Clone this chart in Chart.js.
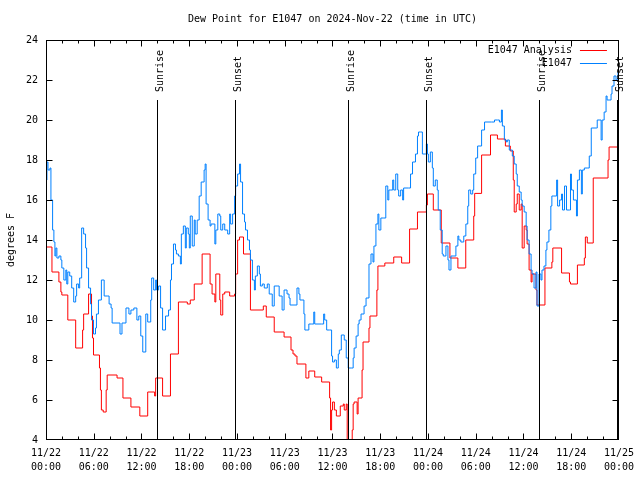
<!DOCTYPE html>
<html>
<head>
<meta charset="utf-8">
<title>Dew Point for E1047</title>
<script src="https://cdn.jsdelivr.net/npm/chart.js@4.4.0/dist/chart.umd.min.js"></script>
<style>
  html, body { margin: 0; padding: 0; background: #fff; }
  #wrap { width: 640px; height: 480px; }
</style>
</head>
<body>
<div id="wrap"><canvas id="dewChart" width="640" height="480"></canvas></div>
<script>
// Dew point chart, hours since 2024-11-22 00:00 UTC on the x axis

const MONO = '"DejaVu Sans Mono", "Liberation Mono", monospace';

const tickDates = ['11/22', '11/22', '11/22', '11/22', '11/23', '11/23', '11/23', '11/23',
                   '11/24', '11/24', '11/24', '11/24', '11/25'];
const tickTimes = ['00:00', '06:00', '12:00', '18:00', '00:00', '06:00', '12:00', '18:00',
                   '00:00', '06:00', '12:00', '18:00', '00:00'];

const sunHours = [13.93, 23.8, 37.95, 47.8, 61.9, 71.79];
const sunLabels = ['Sunrise', 'Sunset', 'Sunrise', 'Sunset', 'Sunrise', 'Sunset'];

// E1047 Analysis (red)
const analysisHours = [0, 0.75, 1.62, 1.87, 1.99, 2.74, 3.73, 4.6, 4.73, 5.35,
    5.72, 5.84, 5.97, 6.72, 6.84, 6.96, 7.19, 7.56, 7.69, 8.93,
    9.67, 10.67, 11.79, 12.78, 13.65, 13.78, 14.65, 15.64, 16.64, 17.76,
    18.13, 18.63, 19.62, 20.62, 20.87, 21.22, 21.34, 21.84, 21.96, 22.21,
    22.46, 23.08, 23.7, 23.83, 24.08, 24.32, 24.82, 25.69, 27.31, 27.68,
    28.68, 29.92, 30.79, 31.04, 31.29, 31.54, 32.66, 33.03, 33.77, 34.64,
    35.64, 35.76, 35.89, 36.01, 36.24, 36.49, 36.98, 37.36, 37.48, 37.73,
    37.85, 38.48, 38.6, 38.72, 39.1, 39.22, 39.72, 39.84, 40.59, 40.71,
    41.58, 41.71, 42.58, 43.7, 44.69, 45.69, 46.68, 47.8, 47.93, 48.67,
    49.67, 50.76, 51.76, 52.75, 53.75, 53.87, 54.74, 55.86, 56.73, 57.73,
    58.35, 58.72, 58.84, 59.09, 59.22, 59.47, 59.71, 59.84, 60.09, 60.34,
    60.46, 60.71, 60.96, 61.08, 61.58, 61.7, 62.7, 63.57, 63.69, 64.79,
    65.78, 65.91, 66.78, 67.65, 67.78, 68.02, 68.77, 70.63, 70.76, 71.88];
const analysisValues = [13.65, 12.4, 11.9, 11.4, 11.25, 10.0, 8.6, 9.5, 10.3, 11.3,
    10.2, 9.1, 8.25, 7.6, 6.5, 5.5, 5.4, 6.5, 7.25, 7.1,
    6.1, 5.65, 5.2, 6.4, 6.2, 7.1, 6.2, 8.3, 10.9, 10.8,
    11.0, 11.8, 13.3, 11.8, 11.3, 10.9, 12.3, 11.0, 10.25, 11.3,
    11.4, 11.2, 11.3, 12.3, 14.0, 14.15, 13.3, 10.5, 10.7, 10.15,
    9.4, 9.15, 8.5, 8.3, 8.2, 7.8, 7.1, 7.45, 7.15, 6.9,
    6.1, 4.5, 5.5, 5.9, 5.5, 5.2, 5.7, 5.8, 5.5, 5.8,
    4.0, 4.5, 5.8, 5.9, 5.3, 6.1, 7.5, 8.9, 9.6, 10.2,
    11.5, 12.7, 12.85, 13.15, 12.85, 14.55, 15.4, 15.75, 16.3, 15.5,
    13.85, 13.1, 12.6, 14.0, 15.2, 16.33, 18.25, 19.25, 19.05, 18.7,
    18.45, 17.0, 15.4, 15.8, 16.3, 15.5, 15.8, 13.6, 14.7, 14.5,
    13.8, 12.5, 11.9, 12.3, 11.5, 10.75, 12.6, 12.9, 13.6, 12.35,
    11.9, 11.8, 12.75, 13.1, 14.15, 13.85, 17.1, 18.0, 18.65, 18.65];

// E1047 station (blue)
const stationHours = [0, 0.12, 0.25, 0.5, 0.62, 0.83, 0.99, 1.12, 1.24, 1.37,
    1.62, 1.87, 1.99, 2.24, 2.49, 2.61, 2.74, 2.98, 3.23, 3.48,
    3.73, 3.85, 4.1, 4.23, 4.48, 4.73, 4.97, 5.1, 5.35, 5.6,
    5.72, 5.97, 6.22, 6.34, 6.59, 6.96,
    7.31, 7.69, 7.93, 8.18, 8.31, 9.05, 9.3, 9.55, 9.8, 10.05,
    10.42, 10.67, 11.04, 11.42, 11.66, 11.91, 12.16, 12.54, 12.78, 13.16,
    13.28, 13.53, 13.78, 13.9, 14.15, 14.4, 14.65, 15.02, 15.4, 15.64,
    15.77, 16.02, 16.27, 16.39, 16.64, 16.89, 17.01, 17.26, 17.51, 17.63,
    17.88, 18.01, 18.13, 18.38, 18.63, 18.75, 19.0, 19.25, 19.5, 19.87,
    20.0, 20.12, 20.37, 20.62, 20.74,
    21.22, 21.34, 21.59, 21.84, 21.96, 22.21, 22.46, 22.83, 23.08, 23.2,
    23.45, 23.7, 23.83, 24.08, 24.32, 24.45, 24.7, 24.95, 25.07, 25.32,
    25.57, 25.69, 25.94, 26.19, 26.31, 26.56, 26.81, 26.94, 27.18, 27.43,
    27.81, 28.05, 28.43, 28.68, 29.05, 29.3, 29.67, 29.92, 30.29, 30.54,
    30.67, 31.29, 31.54, 31.78, 31.91, 32.41, 32.53, 32.78, 33.03, 33.4,
    33.65, 33.77, 34.64, 34.89, 35.02, 35.27, 35.64, 35.89, 36.01,
    36.24, 36.49, 36.73, 36.86, 37.11, 37.48, 37.73, 37.98, 38.35, 38.6,
    38.72, 38.97, 39.22, 39.35, 39.59, 39.84, 39.97, 40.22, 40.46, 40.59,
    40.84, 41.09, 41.21, 41.46, 41.71, 41.83, 42.08, 42.45, 42.7, 42.95,
    43.08, 43.33, 43.57, 43.7, 43.95, 44.2, 44.32, 44.57, 44.82, 44.94,
    45.56, 45.81, 46.06, 46.43, 46.68, 46.81, 47.06, 47.3, 47.68, 47.8,
    47.93, 48.05, 48.3, 48.55, 48.67, 48.92, 49.17, 49.29, 49.54, 49.79,
    49.92,
    50.26, 50.51, 50.64, 50.89, 51.26, 51.51, 51.76, 51.88, 52.13, 52.5,
    52.76, 53.0, 53.12, 53.37, 53.62, 53.75, 54.0, 54.24, 54.74, 55.11,
    55.98, 56.36, 56.73, 56.98, 57.23, 57.35, 57.6, 57.85, 57.97, 58.22,
    58.47, 58.6, 58.84, 59.09, 59.22, 59.47, 59.71, 59.84, 60.09, 60.34,
    60.46, 60.71, 60.96, 61.08, 61.33, 61.58, 61.7, 61.95, 62.2, 62.33,
    62.58, 62.82, 62.95, 63.2, 63.44, 63.57, 63.82,
    64.17, 64.29, 64.54, 64.79, 64.91, 65.16, 65.41, 65.78, 65.91, 66.03,
    66.28, 66.66, 66.78, 67.03, 67.28, 67.4, 67.65, 68.02, 68.27, 68.52,
    69.14, 69.27, 69.51, 69.76, 69.89, 70.14, 70.38, 70.51, 70.76, 71.01,
    71.13, 71.38, 71.63, 71.88];
const stationValues = [17.0, 17.9, 17.5, 17.6, 16.0, 14.5, 13.9, 13.2, 13.6, 13.1,
    13.2, 13.0, 12.6, 12.0, 12.5, 11.8, 12.4, 12.2, 11.6, 10.9,
    11.2, 11.8, 11.6, 12.1, 14.6, 14.3, 13.6, 12.6, 11.6, 10.8,
    10.0, 9.3, 9.6, 10.3, 11.0, 12.0,
    11.2, 11.2, 10.8, 10.6, 9.85, 9.85, 9.3, 9.85, 9.85, 10.6,
    10.3, 10.5, 10.6, 10.0, 10.2, 9.2, 8.4, 10.3, 9.9, 11.0,
    12.1, 11.5, 12.0, 11.5, 11.7, 10.6, 9.5, 10.2, 10.5, 12.0,
    12.8, 13.8, 13.5, 13.3, 13.2, 12.8, 14.3, 14.7, 13.6, 14.6,
    14.3, 13.6, 15.2, 13.7, 15.0, 14.3, 15.0, 16.2, 16.9, 17.5,
    17.8, 15.8, 15.0, 14.7, 14.8,
    13.8, 14.5, 15.3, 15.2, 14.5, 14.8, 14.5, 14.3, 15.3, 14.8,
    15.3, 16.2, 16.7, 17.3, 17.8, 16.9, 15.3, 14.9, 14.5, 14.0,
    13.5, 13.0, 12.0, 11.5, 12.2, 12.7, 12.3, 11.7, 11.8, 11.6,
    11.8, 11.3, 10.7, 11.7, 11.7, 11.2, 10.5, 11.5, 11.3, 11.1,
    10.75, 10.75, 11.6, 11.3, 11.0, 10.3, 9.5, 9.5, 9.8, 9.8,
    10.4, 9.8, 9.8, 10.3, 10.0, 9.5, 9.5, 8.2, 7.9,
    8.0, 7.6, 8.3, 8.5, 9.25, 9.0, 8.1, 7.6, 7.6, 8.1,
    8.6, 9.2, 9.8, 10.0, 10.3, 10.3, 10.7, 11.1, 11.1, 12.8,
    13.3, 12.9, 13.7, 14.8, 15.3, 14.5, 15.1, 15.1, 16.7, 16.0,
    16.5, 16.5, 17.0, 16.5, 17.3, 16.5, 16.2, 16.5, 16.0, 16.6,
    16.6, 17.3, 17.9, 18.3, 19.2, 19.4, 19.4, 18.3, 18.3, 18.8,
    18.3, 17.9, 18.4, 17.6, 16.7, 17.0, 16.5, 15.5, 14.5, 13.3,
    13.2,
    13.7, 13.0, 12.5, 13.2, 13.2, 13.7, 14.2, 14.0, 13.9, 14.2,
    14.8, 15.7, 16.5, 16.3, 16.5, 17.3, 18.1, 18.7, 19.5, 19.9,
    19.9, 20.0, 20.0, 19.9, 20.5, 19.7, 19.0, 18.9, 19.0, 18.5,
    18.5, 18.2, 17.8, 17.3, 16.7, 16.4, 16.0, 15.7, 15.4, 14.7,
    14.0, 13.3, 12.5, 12.3, 11.6, 12.4, 10.7, 12.3, 12.0, 12.5,
    12.7, 13.5, 13.9, 14.5, 15.7, 16.2, 16.2,
    17.0, 15.7, 16.0, 16.3, 15.5, 16.7, 15.5, 15.5, 17.3, 16.5,
    16.0, 15.2, 17.0, 17.5, 16.3, 17.5, 17.6, 17.6, 18.2, 19.6,
    19.6, 20.0, 20.0, 19.0, 20.0, 20.4, 21.2, 21.0, 21.0, 21.3,
    21.7, 22.2, 22.0, 22.4];

function toPoints(hours, values) {
    return hours.map((h, i) => ({ x: h, y: values[i] }));
}

// gnuplot-like frame: border, inward ticks, markers, legend, titles
const gnuplotFrame = {
    id: 'gnuplotFrame',
    afterDatasetsDraw(chart) {
        const { ctx, chartArea: a, scales: { x } } = chart;
        const h = a.bottom - a.top;
        ctx.save();
        ctx.strokeStyle = '#000';
        ctx.fillStyle = '#000';
        ctx.lineWidth = 1;
        ctx.font = '10px ' + MONO;

        // Sunrise / sunset markers
        sunHours.forEach((t, i) => {
            const px = Math.round(x.getPixelForValue(t)) + 0.5;
            ctx.beginPath();
            ctx.moveTo(px, a.bottom);
            ctx.lineTo(px, Math.round(a.bottom - 0.85 * h));
            ctx.stroke();
            ctx.save();
            ctx.translate(px + 5, a.bottom - 0.87 * h);
            ctx.rotate(-Math.PI / 2);
            ctx.textAlign = 'left';
            ctx.textBaseline = 'alphabetic';
            ctx.fillText(sunLabels[i], 0, 0);
            ctx.restore();
        });

        // Legend, top right inside the plot
        ctx.textAlign = 'right';
        ctx.textBaseline = 'middle';
        const legendOrder = [1, 0];
        legendOrder.forEach((di, row) => {
            const ds = chart.data.datasets[di];
            const ly = a.top + 10 + row * 13;
            ctx.fillText(ds.label, a.right - 47, ly);
            ctx.strokeStyle = ds.borderColor;
            ctx.beginPath();
            ctx.moveTo(a.right - 39, ly + 0.5);
            ctx.lineTo(a.right - 12, ly + 0.5);
            ctx.stroke();
        });
        ctx.restore();
    },
    afterDraw(chart) {
        const { ctx, chartArea: a } = chart;
        const L = Math.round(a.left) + 0.5, R = Math.round(a.right) - 0.5;
        const T = Math.round(a.top) + 0.5, B = Math.round(a.bottom) - 0.5;
        const xs = chart.scales.x, ys = chart.scales.y;
        ctx.save();
        ctx.strokeStyle = '#000';
        ctx.fillStyle = '#000';
        ctx.lineWidth = 1;
        ctx.strokeRect(L, T, R - L, B - T);

        // inward ticks on all four sides, skipping the ones on the border
        ctx.beginPath();
        for (let t = 2; t < 72; t += 2) {
            const px = Math.round(xs.getPixelForValue(t)) + 0.5;
            const len = t % 6 === 0 ? 6 : 3;
            ctx.moveTo(px, B); ctx.lineTo(px, B - len);
            ctx.moveTo(px, T); ctx.lineTo(px, T + len);
        }
        for (let v = 6; v < 24; v += 2) {
            const py = Math.round(ys.getPixelForValue(v)) + 0.5;
            ctx.moveTo(L, py); ctx.lineTo(L + 6, py);
            ctx.moveTo(R, py); ctx.lineTo(R - 6, py);
        }
        ctx.stroke();

        ctx.font = '10px ' + MONO;
        ctx.textAlign = 'center';
        ctx.textBaseline = 'middle';
        ctx.fillText('Dew Point for E1047 on 2024-Nov-22 (time in UTC)', (a.left + a.right) / 2, 19);

        ctx.save();
        ctx.translate(11, (a.top + a.bottom) / 2);
        ctx.rotate(-Math.PI / 2);
        ctx.fillText('degrees F', 0, 0);
        ctx.restore();
        ctx.restore();
    }
};

Chart.defaults.color = '#000';
Chart.defaults.font.family = MONO;
Chart.defaults.font.size = 10;

new Chart(document.getElementById('dewChart'), {
    type: 'line',
    data: {
        datasets: [{
            label: 'E1047',
            data: toPoints(stationHours, stationValues),
            borderColor: '#0080ff',
            borderWidth: 1,
            pointRadius: 0,
            stepped: true,
            order: 0
        }, {
            label: 'E1047 Analysis',
            data: toPoints(analysisHours, analysisValues),
            borderColor: '#ff0000',
            borderWidth: 1,
            pointRadius: 0,
            stepped: true,
            order: 1
        }]
    },
    options: {
        responsive: false,
        animation: false,
        devicePixelRatio: 1,
        parsing: false,
        layout: { padding: { top: 40, right: 19, left: 0, bottom: 0 } },
        plugins: {
            legend: { display: false },
            tooltip: { enabled: false },
            title: { display: false }
        },
        scales: {
            x: {
                type: 'linear',
                min: 0,
                max: 72,
                grid: { display: false, drawTicks: false },
                border: { display: false },
                ticks: {
                    stepSize: 6,
                    autoSkip: false,
                    maxRotation: 0,
                    padding: 6,
                    font: { size: 10, lineHeight: 1.4 },
                    callback: (value) => {
                        const i = Math.round(value / 6);
                        return [tickDates[i], tickTimes[i]];
                    }
                },
                afterFit: (scale) => { scale.height = 40; }
            },
            y: {
                min: 4,
                max: 24,
                grid: { display: false, drawTicks: false },
                border: { display: false },
                ticks: { stepSize: 2, padding: 8, font: { size: 10 } },
                afterFit: (scale) => { scale.width = 46; }
            }
        }
    },
    plugins: [gnuplotFrame]
});
</script>
</body>
</html>
